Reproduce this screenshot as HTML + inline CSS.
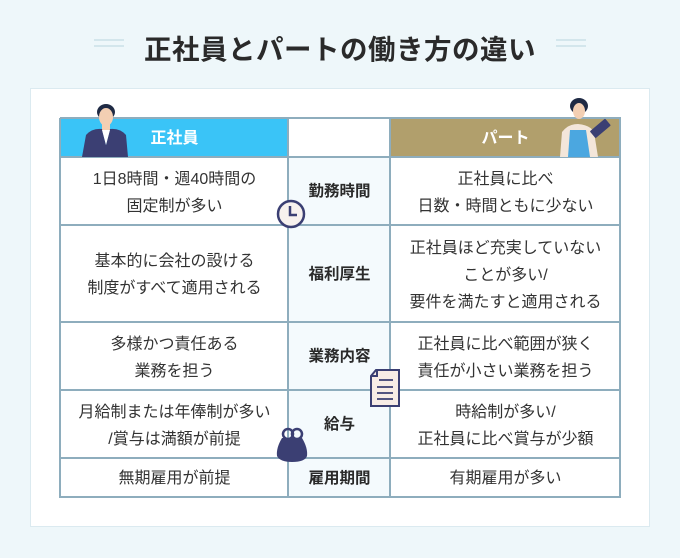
<!DOCTYPE html>
<html><head><meta charset="utf-8"><style>
*{margin:0;padding:0;box-sizing:border-box}
body{width:680px;height:558px;background:#eef7fa;position:relative;overflow:hidden;font-family:"Liberation Sans","Noto Sans CJK JP",sans-serif;color:#333}
.t{position:absolute;left:0;width:680px;top:27px;text-align:center;font-size:27.5px;font-weight:bold;color:#2a2a2a;letter-spacing:0.5px}
.dl{position:absolute;width:30px;height:2px;background:#d3e6ec}
.panel{position:absolute;left:30px;top:88px;width:620px;height:439px;background:#fff;border:1px solid #dbeaf0}
.c{position:absolute;display:flex;align-items:center;justify-content:center;text-align:center;font-size:16px;line-height:27px;color:#333}
.m{background:#f4fafd;font-weight:bold;font-size:15.5px;color:#2a2a2a}
.h{position:absolute;background:#8eadbd;height:2px;left:60px;width:561px}
.v{position:absolute;background:#8eadbd;width:2px;top:118px;height:380px}
</style></head><body>
<div class="dl" style="left:94px;top:39px"></div><div class="dl" style="left:94px;top:45px"></div>
<div class="dl" style="left:556px;top:39px"></div><div class="dl" style="left:556px;top:45px"></div>
<div class="t">正社員とパートの働き方の違い</div>
<div class="panel"></div>

<div class="c" style="left:61px;top:119px;width:227px;height:38px;background:#3ac4f7;color:#fff;font-weight:bold;font-size:16px">正社員</div>
<div class="c" style="left:391px;top:119px;width:229px;height:38px;background:#b19f6c;color:#fff;font-weight:bold;font-size:16px">パート</div>

<div class="c m" style="left:289px;top:158px;width:101px;height:67px">勤務時間</div>
<div class="c m" style="left:289px;top:226px;width:101px;height:96px">福利厚生</div>
<div class="c m" style="left:289px;top:323px;width:101px;height:67px">業務内容</div>
<div class="c m" style="left:289px;top:391px;width:101px;height:67px">給与</div>
<div class="c m" style="left:289px;top:459px;width:101px;height:38px">雇用期間</div>

<div class="c" style="left:61px;top:159px;width:227px;height:67px">1日8時間・週40時間の<br>固定制が多い</div>
<div class="c" style="left:61px;top:227px;width:227px;height:96px">基本的に会社の設ける<br>制度がすべて適用される</div>
<div class="c" style="left:61px;top:324px;width:227px;height:67px">多様かつ責任ある<br>業務を担う</div>
<div class="c" style="left:61px;top:392px;width:227px;height:67px">月給制または年俸制が多い<br>/賞与は満額が前提</div>
<div class="c" style="left:61px;top:459px;width:227px;height:38px">無期雇用が前提</div>

<div class="c" style="left:391px;top:159px;width:229px;height:67px">正社員に比べ<br>日数・時間ともに少ない</div>
<div class="c" style="left:391px;top:227px;width:229px;height:96px">正社員ほど充実していない<br>ことが多い/<br>要件を満たすと適用される</div>
<div class="c" style="left:391px;top:324px;width:229px;height:67px">正社員に比べ範囲が狭く<br>責任が小さい業務を担う</div>
<div class="c" style="left:391px;top:392px;width:229px;height:67px">時給制が多い/<br>正社員に比べ賞与が少額</div>
<div class="c" style="left:391px;top:459px;width:229px;height:38px">有期雇用が多い</div>

<div class="h" style="top:117px"></div><div class="h" style="top:156px"></div><div class="h" style="top:224px"></div>
<div class="h" style="top:321px"></div><div class="h" style="top:389px"></div><div class="h" style="top:457px"></div><div class="h" style="top:496px"></div>
<div class="v" style="left:59px"></div><div class="v" style="left:287px"></div><div class="v" style="left:389px"></div><div class="v" style="left:619px"></div>

<svg width="680" height="558" style="position:absolute;left:0;top:0">
<ellipse cx="106" cy="112" rx="9" ry="8" fill="#1f2a44"/>
<ellipse cx="106" cy="117" rx="7" ry="9" fill="#f3cfb3"/>
<rect x="102" y="124" width="8" height="8" fill="#f3cfb3"/>
<path d="M82 157 L86 135 Q92 128 102 129 L106 145 L110 129 Q120 128 126 135 L128 157 Z" fill="#3b3f73"/>
<path d="M102 130 L106 145 L110 130 Z" fill="#fff"/>
<ellipse cx="579" cy="106" rx="9" ry="8" fill="#1f2a44"/>
<ellipse cx="579" cy="111" rx="6" ry="8" fill="#f3cfb3"/>
<path d="M560 157 L562 132 Q568 124 578 124 Q590 125 594 132 L598 157 Z" fill="#f3e6da"/>
<path d="M570 130 L586 130 L590 157 L568 157 Z" fill="#4ba7e0"/>
<rect x="590" y="124" width="20" height="9" rx="1" fill="#3b3f73" transform="rotate(-40 600 128)"/>
<circle cx="291" cy="214" r="13" fill="#f7f1ee" stroke="#3b3f73" stroke-width="2.5"/>
<path d="M290 206 V215 H297" stroke="#3b3f73" stroke-width="2.5" fill="none"/>
<path d="M376 370 H399 V406 H371 V376 Z" fill="#f7ece6" stroke="#3b3f73" stroke-width="2"/>
<path d="M371 376 H377 V370" fill="none" stroke="#3b3f73" stroke-width="2"/>
<path d="M379 380 H393 M377 387 H393 M377 393 H393 M377 399 H393" stroke="#3b3f73" stroke-width="1.8"/>
<circle cx="288" cy="434" r="5" fill="none" stroke="#3b3f73" stroke-width="2.5"/>
<circle cx="297" cy="434" r="5" fill="none" stroke="#3b3f73" stroke-width="2.5"/>
<path d="M282 438 Q276 448 277 456 Q280 462 292 462 Q305 462 307 456 Q308 448 302 438 Z" fill="#3b3f73"/>
</svg>
</body></html>
